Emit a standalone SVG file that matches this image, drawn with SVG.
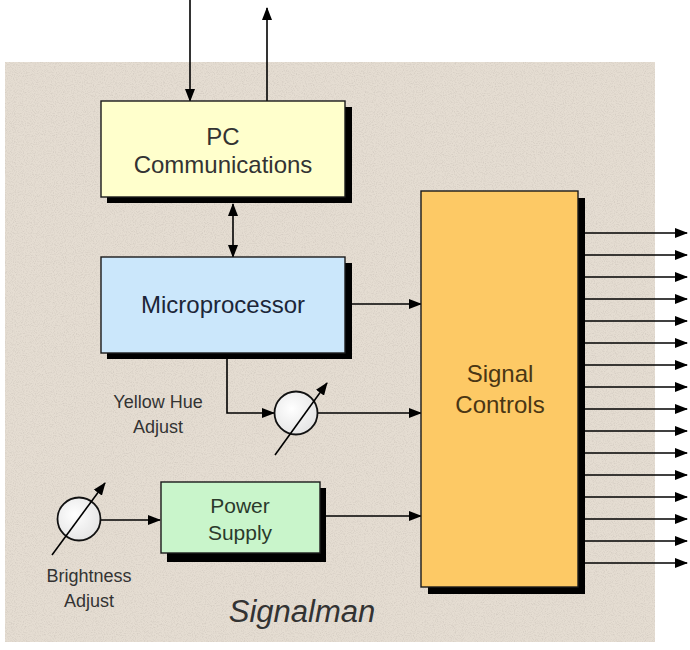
<svg xmlns="http://www.w3.org/2000/svg" width="690" height="650" viewBox="0 0 690 650">
<style>
.ln{stroke:#000;stroke-width:1.6;fill:none}
.arr{marker-end:url(#ah)}
.shadow{fill:#000}
.box{stroke:#1a1a1a;stroke-width:1.4}
.lbl{font-family:"Liberation Sans",Arial,sans-serif;text-anchor:middle}
.gauge{fill:url(#gg);stroke:#111;stroke-width:1.8}
</style>
<defs>
<marker id="ah" markerUnits="userSpaceOnUse" markerWidth="13" markerHeight="10" refX="12" refY="5" orient="auto">
<path d="M0,0 L13,5 L0,10 z" fill="#000"/>
</marker>
<marker id="ahs" markerUnits="userSpaceOnUse" markerWidth="13" markerHeight="10" refX="1" refY="5" orient="auto">
<path d="M13,0 L0,5 L13,10 z" fill="#000"/>
</marker>
<radialGradient id="gg" cx="0.4" cy="0.4" r="0.7">
<stop offset="0" stop-color="#ffffff"/>
<stop offset="1" stop-color="#e2e2e2"/>
</radialGradient>
<filter id="noise" x="0" y="0" width="100%" height="100%">
<feTurbulence type="fractalNoise" baseFrequency="0.9" numOctaves="2" seed="3" result="t"/>
<feColorMatrix in="t" type="matrix" values="0 0 0 0 0.55  0 0 0 0 0.5  0 0 0 0 0.45  0 0 0 -2.2 1.25" result="c"/>
<feComposite in="c" in2="SourceGraphic" operator="in"/>
</filter>
</defs>
<rect x="0" y="0" width="690" height="650" fill="#ffffff"/>
<g id="background">
<rect x="5" y="62" width="650" height="580" fill="#e5ddd2"/>
<rect x="5" y="62" width="650" height="580" fill="#e5ddd2" filter="url(#noise)" opacity="0.5"/>
</g>

<g id="connectors">
<line class="ln arr" x1="190" y1="0" x2="190" y2="101"/>
<line class="ln arr" x1="267" y1="101" x2="267" y2="8"/>
<line class="ln arr" x1="233" y1="257" x2="233" y2="204" marker-start="url(#ahs)"/>
<line class="ln arr" x1="352" y1="304" x2="421" y2="304"/>
<polyline class="ln arr" points="227,359 227,413 274,413"/>
<line class="ln arr" x1="318" y1="413" x2="421" y2="413"/>
<line class="ln arr" x1="101" y1="520" x2="160" y2="520"/>
<line class="ln arr" x1="326" y1="516" x2="421" y2="516"/>
<g id="outputs">
<line class="ln arr" x1="584" y1="233" x2="687" y2="233"/>
<line class="ln arr" x1="584" y1="255" x2="687" y2="255"/>
<line class="ln arr" x1="584" y1="277" x2="687" y2="277"/>
<line class="ln arr" x1="584" y1="299" x2="687" y2="299"/>
<line class="ln arr" x1="584" y1="321" x2="687" y2="321"/>
<line class="ln arr" x1="584" y1="343" x2="687" y2="343"/>
<line class="ln arr" x1="584" y1="365" x2="687" y2="365"/>
<line class="ln arr" x1="584" y1="387" x2="687" y2="387"/>
<line class="ln arr" x1="584" y1="409" x2="687" y2="409"/>
<line class="ln arr" x1="584" y1="431" x2="687" y2="431"/>
<line class="ln arr" x1="584" y1="453" x2="687" y2="453"/>
<line class="ln arr" x1="584" y1="475" x2="687" y2="475"/>
<line class="ln arr" x1="584" y1="497" x2="687" y2="497"/>
<line class="ln arr" x1="584" y1="519" x2="687" y2="519"/>
<line class="ln arr" x1="584" y1="541" x2="687" y2="541"/>
<line class="ln arr" x1="584" y1="563" x2="687" y2="563"/>
</g>
</g>

<g id="pc-communications">
<rect class="shadow" x="107" y="107" width="245" height="96"/>
<rect class="box" x="101" y="101" width="244" height="96" fill="#ffffcc"/>
<text class="lbl" x="223" y="145" font-size="24" fill="#333">PC</text>
<text class="lbl" x="223" y="173" font-size="24" fill="#333">Communications</text>
</g>

<g id="microprocessor">
<rect class="shadow" x="107" y="263" width="245" height="96"/>
<rect class="box" x="101" y="257" width="244" height="96" fill="#cbe7fb"/>
<text class="lbl" x="223" y="313" font-size="24" fill="#1c2638">Microprocessor</text>
</g>

<g id="yellow-hue-adjust">
<circle class="gauge" cx="296" cy="413" r="21.5"/>
<line class="ln arr" x1="275" y1="455" x2="327" y2="383"/>
<text class="lbl" x="158" y="408" font-size="18" fill="#333">Yellow Hue</text>
<text class="lbl" x="158" y="433" font-size="18" fill="#333">Adjust</text>
</g>

<g id="brightness-adjust">
<circle class="gauge" cx="79" cy="519" r="21.5"/>
<line class="ln arr" x1="52" y1="555" x2="105" y2="483"/>
<text class="lbl" x="89" y="582" font-size="18" fill="#333">Brightness</text>
<text class="lbl" x="89" y="607" font-size="18" fill="#333">Adjust</text>
</g>

<g id="power-supply">
<rect class="shadow" x="167" y="488" width="159" height="74"/>
<rect class="box" x="161" y="482" width="159" height="71" fill="#c9f5cb"/>
<text class="lbl" x="240" y="513" font-size="21" fill="#2b3a2b">Power</text>
<text class="lbl" x="240" y="540" font-size="21" fill="#2b3a2b">Supply</text>
</g>

<g id="signal-controls">
<rect class="shadow" x="428" y="198" width="157" height="396"/>
<rect class="box" x="421" y="191" width="157" height="396" fill="#fdc965"/>
<text class="lbl" x="500" y="382" font-size="24" fill="#4a3614">Signal</text>
<text class="lbl" x="500" y="413" font-size="24" fill="#4a3614">Controls</text>
</g>

<g id="title">
<text class="lbl" x="302" y="622" font-size="31" font-style="italic" fill="#333">Signalman</text>
</g>
</svg>
